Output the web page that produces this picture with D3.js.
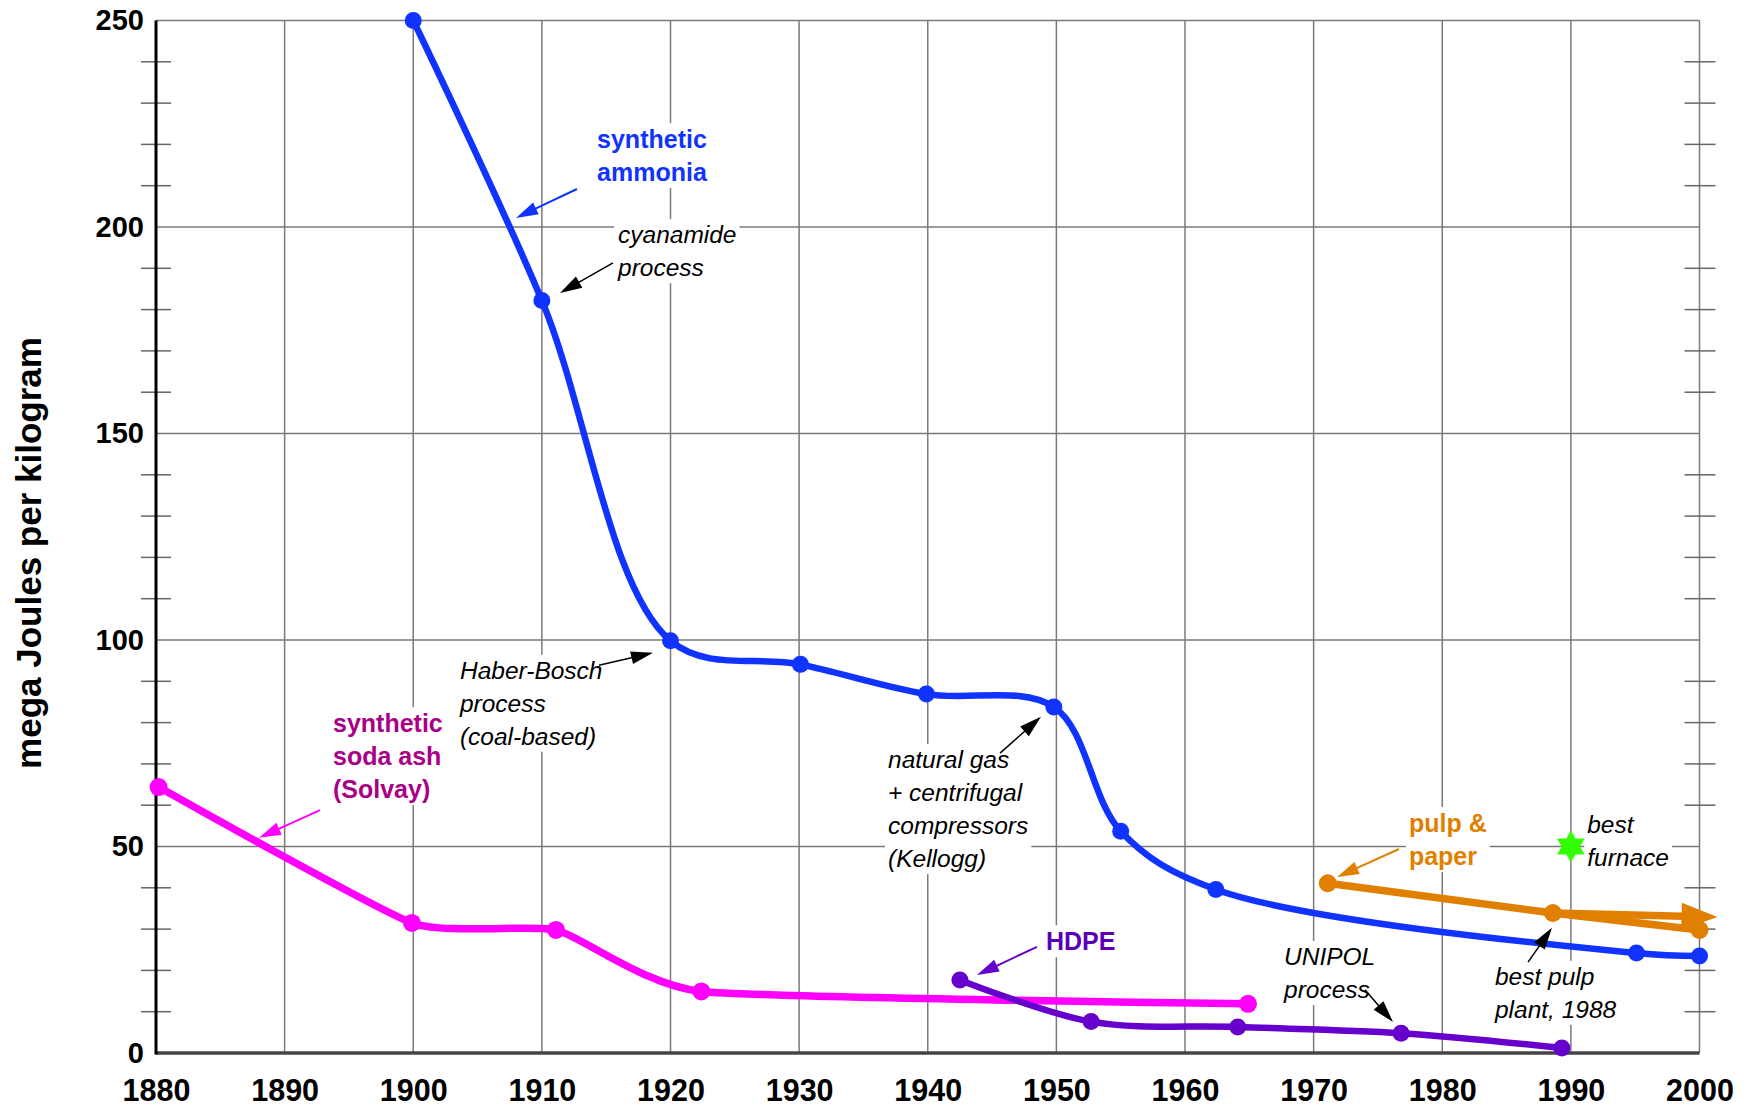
<!DOCTYPE html>
<html>
<head>
<meta charset="utf-8">
<script src="https://cdn.jsdelivr.net/npm/d3@7"></script>
<style>
  body { margin: 0; background: #fff; }
  svg { font-family: "Liberation Sans", Arial, Helvetica, sans-serif; }
</style>
</head>
<body>
<svg id="chart" width="1747" height="1107"></svg>
<script>
// values (year, mega Joules per kg)
const ammoniaYears = [1900, 1910, 1920, 1930.1, 1939.9, 1949.8, 1955, 1962.4, 1995.1, 2000];
const ammoniaMJ    = [250, 182.2, 99.8, 94.1, 86.9, 83.8, 53.7, 39.6, 24.2, 23.5];
const sodaYears = [1880.2, 1899.9, 1911.1, 1922.4, 1964.9];
const sodaMJ    = [64.4, 31.5, 29.8, 14.9, 11.9];
const hdpeYears = [1942.5, 1952.7, 1964.1, 1976.8, 1989.3];
const hdpeMJ    = [17.7, 7.6, 6.3, 4.8, 1.2];
const pulpYears = [1971.1, 1988.6, 2000];
const pulpMJ    = [41.1, 33.9, 29.8];
const pulpTrendYears = [1988.6, 2001.4];
const pulpTrendMJ    = [33.9, 32.9];
const furnaceYear = 1990;
const furnaceMJ = 50;

const xTicks = [1880, 1890, 1900, 1910, 1920, 1930, 1940, 1950, 1960, 1970, 1980, 1990, 2000];
const yTicks = [0, 50, 100, 150, 200, 250];
const yMinor = [10, 20, 30, 40, 60, 70, 80, 90, 110, 120, 130, 140, 160, 170, 180, 190, 210, 220, 230, 240];
const yTitle = "mega Joules per kilogram";

// annotation texts
const noteLines = {
  ammonia: ["synthetic", "ammonia"],
  cyanamide: ["cyanamide", "process"],
  haber: ["Haber-Bosch", "process", "(coal-based)"],
  soda: ["synthetic", "soda ash", "(Solvay)"],
  kellogg: ["natural gas", "+ centrifugal", "compressors", "(Kellogg)"],
  hdpe: ["HDPE"],
  unipol: ["UNIPOL", "process"],
  pulp: ["pulp &", "paper"],
  furnace: ["best", "furnace"],
  pulpPlant: ["best pulp", "plant, 1988"]
};

const svg = d3.select("svg#chart");
const x = d3.scaleLinear().domain([1880, 2000]).range([156, 1699.5]);
const y = d3.scaleLinear().domain([0, 250]).range([1053, 20.5]);

const blue = "#1133ff", magenta = "#ff00ff", purple = "#6600cc", orange = "#e07f00";

// grid
let grid = svg.append("g").attr("class", "grid");
grid.selectAll(".vg").data(xTicks.slice(1)).enter().append("line")
  .attr("x1", d => x(d)).attr("x2", d => x(d))
  .attr("y1", y(0)).attr("y2", y(250))
  .attr("stroke", "#7a7a7a").attr("stroke-width", 1.5);
grid.selectAll(".hg").data(yTicks.slice(1)).enter().append("line")
  .attr("x1", x(1880)).attr("x2", x(2000))
  .attr("y1", d => y(d)).attr("y2", d => y(d))
  .attr("stroke", "#7a7a7a").attr("stroke-width", 1.5);
// minor ticks both sides
grid.selectAll(".ml").data(yMinor).enter().append("line")
  .attr("x1", x(1880) - 15).attr("x2", x(1880) + 15)
  .attr("y1", d => y(d)).attr("y2", d => y(d))
  .attr("stroke", "#666").attr("stroke-width", 1.5);
grid.selectAll(".mr").data(yMinor).enter().append("line")
  .attr("x1", x(2000) - 15).attr("x2", x(2000) + 16)
  .attr("y1", d => y(d)).attr("y2", d => y(d))
  .attr("stroke", "#666").attr("stroke-width", 1.5);

// axes
let xAxis = d3.axisBottom(x).tickValues(xTicks).tickFormat(d3.format("d")).tickSize(0).tickPadding(26);
svg.append("g").attr("transform", "translate(0," + y(0) + ")").call(xAxis)
  .attr("font-size", null).attr("font-family", null)
  .call(g => g.select(".domain").remove())
  .selectAll("text").attr("font-size", 30.5).attr("font-weight", "bold").attr("fill", "#000");
let yAxis = d3.axisLeft(y).tickValues(yTicks).tickSize(0).tickPadding(12);
svg.append("g").attr("transform", "translate(" + x(1880) + ",0)").call(yAxis)
  .attr("font-size", null).attr("font-family", null)
  .call(g => g.select(".domain").remove())
  .selectAll("text").attr("font-size", 29).attr("font-weight", "bold").attr("fill", "#000");

svg.append("line").attr("x1", x(1880)).attr("x2", x(2000)).attr("y1", y(0)).attr("y2", y(0))
  .attr("stroke", "#444").attr("stroke-width", 3.5);
svg.append("line").attr("x1", x(1880)).attr("x2", x(1880)).attr("y1", y(0) + 1.5).attr("y2", y(250))
  .attr("stroke", "#000").attr("stroke-width", 3);

svg.append("text")
  .attr("transform", "translate(41," + 553 + ") rotate(-90)")
  .attr("text-anchor", "middle")
  .attr("font-size", 35).attr("font-weight", "bold")
  .text(yTitle);

// layers: white boxes under the data, labels on top
let boxLayer = svg.append("g");
let dataLayer = svg.append("g");
let textLayer = svg.append("g");

function note(lines, yr, mj, color, bold) {
  let t = textLayer.append("text")
    .attr("x", x(yr)).attr("y", y(mj))
    .attr("fill", color)
    .attr("font-size", bold ? 25 : 24.5)
    .attr("font-weight", bold ? "bold" : "normal")
    .attr("font-style", bold ? "normal" : "italic");
  t.selectAll("tspan").data(lines).enter().append("tspan")
    .attr("x", x(yr)).attr("dy", (d, i) => i == 0 ? 0 : 33)
    .text(d => d);
  let b = t.node().getBBox();
  boxLayer.append("rect")
    .attr("x", b.x - 3).attr("y", b.y - 2)
    .attr("width", b.width + 6).attr("height", b.height + 4)
    .attr("fill", "#fff");
}

function arrow(yr1, mj1, yr2, mj2, color, width, headLen, headW) {
  let x1 = x(yr1), y1 = y(mj1), x2 = x(yr2), y2 = y(mj2);
  let a = Math.atan2(y2 - y1, x2 - x1);
  let bx = x2 - headLen * Math.cos(a), by = y2 - headLen * Math.sin(a);
  dataLayer.append("line")
    .attr("x1", x1).attr("y1", y1).attr("x2", bx + Math.cos(a)).attr("y2", by + Math.sin(a))
    .attr("stroke", color).attr("stroke-width", width);
  let px = -Math.sin(a) * headW / 2, py = Math.cos(a) * headW / 2;
  dataLayer.append("path")
    .attr("d", "M" + x2 + "," + y2 + "L" + (bx + px) + "," + (by + py) + "L" + (bx - px) + "," + (by - py) + "Z")
    .attr("fill", color);
}

function series(years, vals, color, width, r, curve) {
  let pts = years.map((d, i) => [d, vals[i]]);
  dataLayer.append("path")
    .datum(pts)
    .attr("d", d3.line().x(d => x(d[0])).y(d => y(d[1])).curve(curve))
    .attr("fill", "none")
    .attr("stroke", color)
    .attr("stroke-width", width)
    .attr("stroke-linejoin", "round");
  dataLayer.append("g").selectAll("circle").data(pts).enter().append("circle")
    .attr("cx", d => x(d[0])).attr("cy", d => y(d[1]))
    .attr("r", r).attr("fill", color);
}

let smooth = d3.curveCatmullRom.alpha(0.5);
series(sodaYears, sodaMJ, magenta, 7.5, 9, d3.curveCardinal.tension(0.5));
series(hdpeYears, hdpeMJ, purple, 6.5, 8.5, smooth);
series(ammoniaYears, ammoniaMJ, blue, 6.5, 8.5, smooth);
series(pulpYears, pulpMJ, orange, 7.5, 9, d3.curveLinear);
arrow(pulpTrendYears[0], pulpTrendMJ[0], pulpTrendYears[1], pulpTrendMJ[1], orange, 7.5, 36, 27);

// best furnace star (six points)
let starPts = d3.range(12).map(i => [i * Math.PI / 6, i % 2 == 0 ? 16 : 9.2]);
dataLayer.append("path")
  .attr("transform", "translate(" + x(furnaceYear) + "," + y(furnaceMJ) + ")")
  .attr("d", d3.lineRadial().angle(d => d[0]).radius(d => d[1]).curve(d3.curveLinearClosed)(starPts))
  .attr("fill", "#33ff00");

// labels
note(noteLines.ammonia, 1914.29, 219.1, blue, true);
note(noteLines.cyanamide, 1915.92, 196.1, "#000", false);
note(noteLines.haber, 1903.63, 90.6, "#000", false);
note(noteLines.soda, 1893.76, 77.7, "#aa0088", true);
note(noteLines.kellogg, 1936.91, 69.0, "#000", false);
note(noteLines.hdpe, 1949.19, 24.9, "#5a00b8", true);
note(noteLines.unipol, 1967.70, 21.3, "#000", false);
note(noteLines.pulp, 1977.41, 53.5, orange, true);
note(noteLines.furnace, 1991.27, 53.3, "#000", false);
note(noteLines.pulpPlant, 1984.10, 16.5, "#000", false);

// pointer arrows
arrow(1912.73, 209.2, 1907.99, 202.2, blue, 2, 22, 13);
arrow(1915.53, 191.3, 1911.41, 184.0, "#000", 1.5, 22, 13);
arrow(1914.44, 93.9, 1918.64, 96.9, "#000", 1.5, 22, 13);
arrow(1892.75, 58.8, 1888.01, 52.1, magenta, 2, 22, 13);
arrow(1945.62, 72.6, 1948.80, 81.4, "#000", 1.5, 22, 13);
arrow(1948.49, 25.7, 1943.83, 18.9, purple, 2, 22, 13);
arrow(1973.99, 15.3, 1976.17, 7.5, "#000", 1.5, 22, 13);
arrow(1976.64, 49.4, 1971.82, 42.6, orange, 2, 22, 13);
arrow(1986.67, 22.0, 1988.53, 30.3, "#000", 1.5, 22, 13);
</script>
</body>
</html>
